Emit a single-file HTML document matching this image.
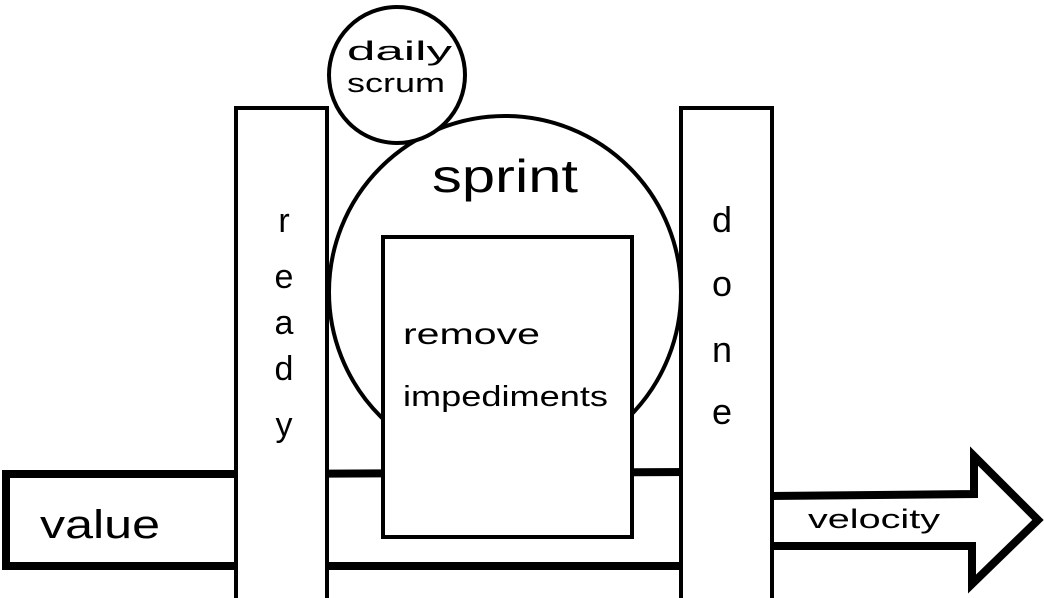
<!DOCTYPE html>
<html><head><meta charset="utf-8"><style>
html,body{margin:0;padding:0;background:#fff;}
svg{display:block;}
text{font-family:"Liberation Sans",sans-serif;fill:#000;}
</style></head><body>
<svg width="1044" height="598" viewBox="0 0 1044 598" xmlns="http://www.w3.org/2000/svg">
<rect width="1044" height="598" fill="#fff"/>
<path d="M6 474 L240 474 L240 566 L6 566 Z" fill="#fff" stroke="#000" stroke-width="8"/>
<path d="M240 474 L690 472" stroke="#000" stroke-width="8" fill="none"/>
<path d="M240 566 L690 566" stroke="#000" stroke-width="8" fill="none"/>
<path d="M770 496 L974 494 L974 456 L1038 520 L972 584 L972 546 L770 546" fill="#fff" stroke="#000" stroke-width="8" stroke-linejoin="miter"/>
<circle cx="505" cy="292" r="176" fill="#fff" stroke="#000" stroke-width="4"/>
<circle cx="397" cy="75" r="68" fill="#fff" stroke="#000" stroke-width="4"/>
<text x="347" y="60" font-size="27" textLength="105" lengthAdjust="spacingAndGlyphs">daily</text>
<text x="347" y="92" font-size="27" textLength="98" lengthAdjust="spacingAndGlyphs">scrum</text>
<text x="432" y="192" font-size="46" textLength="146" lengthAdjust="spacingAndGlyphs">sprint</text>
<rect x="383" y="237" width="249" height="300" fill="#fff" stroke="#000" stroke-width="4"/>
<text x="403" y="344" font-size="30" textLength="137" lengthAdjust="spacingAndGlyphs">remove</text>
<text x="403" y="406" font-size="29" textLength="205" lengthAdjust="spacingAndGlyphs">impediments</text>
<rect x="236" y="108" width="91" height="500" fill="#fff" stroke="#000" stroke-width="4"/>
<g font-size="34" text-anchor="middle">
<text x="284" y="232">r</text><text x="284" y="288">e</text><text x="284" y="334">a</text><text x="284" y="380">d</text><text x="284" y="436">y</text>
</g>
<rect x="681" y="108" width="91" height="500" fill="#fff" stroke="#000" stroke-width="4"/>
<g font-size="36" text-anchor="middle">
<text x="722" y="232">d</text><text x="722" y="296">o</text><text x="722" y="362">n</text><text x="722" y="424">e</text>
</g>
<text x="40" y="538" font-size="40" textLength="120" lengthAdjust="spacingAndGlyphs">value</text>
<text x="808" y="528" font-size="27" textLength="132" lengthAdjust="spacingAndGlyphs">velocity</text>
</svg>
</body></html>
